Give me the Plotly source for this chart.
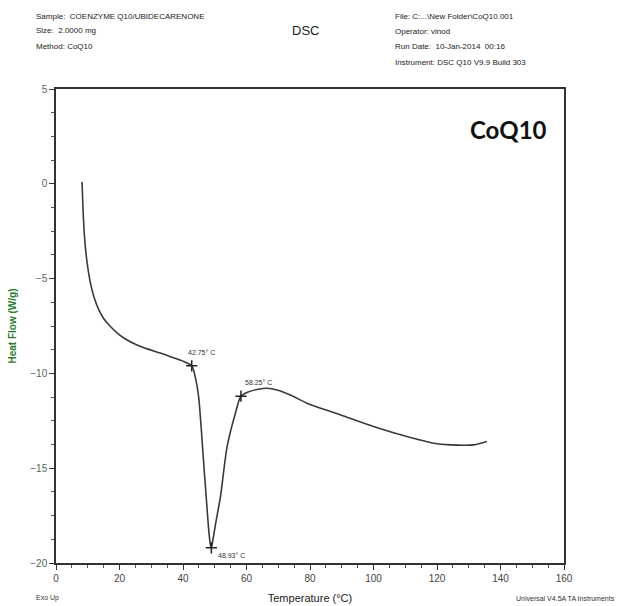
import plotly.graph_objects as go

# Data
temperature = [8.2, 8.5, 8.9, 9.4, 10.0, 10.8, 12.0, 13.5, 15.0, 17.0, 19.3, 22.0, 25.5, 29.0, 32.9, 36.5, 40.2, 42.75,
               44.0, 44.9, 45.7, 46.5, 47.3, 48.1, 48.6, 48.93, 49.4, 50.3, 51.8, 53.9, 56.5, 58.25,
               60.5, 63.3, 66.5, 69.6, 74.0, 79.0, 89.5, 100.0, 110.5, 118.9, 124.1, 131.5, 135.7]
heat_flow = [0.1, -1.3, -2.6, -3.6, -4.4, -5.2, -6.0, -6.65, -7.1, -7.5, -7.87, -8.2, -8.5, -8.72, -8.93, -9.15, -9.37, -9.6,
             -10.3, -11.2, -12.8, -14.7, -16.5, -18.25, -19.0, -19.2, -18.8, -17.9, -16.5, -13.86, -12.1, -11.2,
             -10.98, -10.85, -10.78, -10.87, -11.15, -11.57, -12.18, -12.8, -13.33, -13.68, -13.77, -13.77, -13.59]

marker_t = [42.75, 48.93, 58.25]
marker_hf = [-9.6, -19.2, -11.2]
marker_labels = ["42.75° C", "48.93° C", "58.25° C"]

x_ticks = [0, 20, 40, 60, 80, 100, 120, 140, 160]
y_ticks = [5, 0, -5, -10, -15, -20]

header_left = ["Sample:  COENZYME Q10/UBIDECARENONE", "Size:  2.0000 mg", "Method: CoQ10"]
header_right = ["File: C:...\\New Folder\\CoQ10.001", "Operator: vinod",
                "Run Date:  10-Jan-2014  00:16", "Instrument: DSC Q10 V9.9 Build 303"]

SMALL = "Liberation Sans"

fig = go.Figure()
fig.add_trace(go.Scatter(x=temperature, y=heat_flow, mode="lines",
                         line=dict(color="#3a3a3a", width=1.6, shape="spline", smoothing=0.8),
                         hoverinfo="skip", showlegend=False))
fig.add_trace(go.Scatter(x=marker_t, y=marker_hf, mode="markers",
                         marker=dict(symbol="cross-thin", size=8, line=dict(color="#222", width=1.5)),
                         showlegend=False, hoverinfo="skip"))

label_offsets = [(-6, 13), (5, -8), (2, 14)]
for t, hf, lab, (dx, dy) in zip(marker_t, marker_hf, marker_labels, label_offsets):
    fig.add_annotation(x=t, y=hf, text=lab, showarrow=False, xanchor="left", xshift=dx, yshift=dy,
                       font=dict(size=7, color="#333", family=SMALL))

fig.update_xaxes(range=[0, 160], tickvals=x_ticks, ticks="outside", ticklen=5, tickcolor="#333",
                 showline=True, linecolor="#333", linewidth=1.5, mirror=True, showgrid=False, zeroline=False,
                 tickfont=dict(size=10, color="#444", family=SMALL),
                 minor=dict(ticks="outside", dtick=5, ticklen=3, tickcolor="#555"),
                 title=dict(text="Temperature (°C)", font=dict(size=11, color="#222", family=SMALL),
                            standoff=12))
fig.update_yaxes(range=[-20, 5], tickvals=y_ticks, ticks="outside", ticklen=5, tickcolor="#333",
                 showline=True, linecolor="#333", linewidth=1.5, mirror=True, showgrid=False, zeroline=False,
                 tickfont=dict(size=10, color="#556655", family=SMALL),
                 minor=dict(ticks="outside", tick0=0, dtick=1.25, ticklen=3, tickcolor="#555"),
                 title=dict(text="<b>Heat Flow (W/g)</b>", font=dict(size=10, color="#2e7d32", family=SMALL),
                            standoff=12))

for i, s in enumerate(header_left):
    fig.add_annotation(xref="paper", yref="paper", x=-22 / 508.5, y=1 + (73 - 15 * i) / 474, text=s,
                       showarrow=False, xanchor="left", yanchor="middle",
                       font=dict(size=8, color="#222", family=SMALL))
for i, s in enumerate(header_right):
    fig.add_annotation(xref="paper", yref="paper", x=337 / 508.5, y=1 + (73 - 15.5 * i) / 474, text=s,
                       showarrow=False, xanchor="left", yanchor="middle",
                       font=dict(size=8, color="#222", family=SMALL))
fig.add_annotation(xref="paper", yref="paper", x=250 / 508.5, y=1 + 59 / 474, text="DSC", showarrow=False,
                   xanchor="center", yanchor="middle", font=dict(size=13, color="#222", family=SMALL))
fig.add_annotation(xref="paper", yref="paper", x=0.97, y=1 - 41 / 474, text="<b>CoQ10</b>", showarrow=False,
                   xanchor="right", yanchor="middle", font=dict(size=24, color="#111", family="Lato"))
fig.add_annotation(xref="paper", yref="paper", x=-22 / 508.5, y=-35 / 474, text="Exo Up", showarrow=False,
                   xanchor="left", yanchor="middle", font=dict(size=7, color="#333", family=SMALL))
fig.add_annotation(xref="paper", yref="paper", x=1 + 53 / 508.5, y=-35 / 474, text="Universal V4.5A TA Instruments",
                   showarrow=False, xanchor="right", yanchor="middle",
                   font=dict(size=7, color="#333", family=SMALL))

fig.update_layout(width=620, height=606, margin=dict(l=55.5, r=56, t=89, b=43, autoexpand=False),
                  plot_bgcolor="white", paper_bgcolor="white")
fig.write_html("out.html")
